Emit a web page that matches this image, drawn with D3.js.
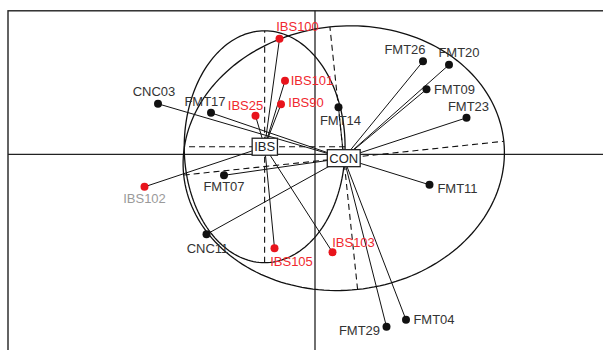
<!DOCTYPE html>
<html>
<head>
<meta charset="utf-8">
<script src="https://cdn.jsdelivr.net/npm/d3@7"></script>
<style>
  html, body { margin: 0; padding: 0; background: #fff; }
  svg { display: block; }
</style>
</head>
<body>
<div id="chart"></div>
<script>
// sample scores on the first two axes
const ibsNames = ['IBS100', 'IBS101', 'IBS90', 'IBS25', 'IBS102', 'IBS105', 'IBS103'];
const ibsX = [-0.71, -0.60, -0.68, -1.19, -3.41, -0.81, 0.35];
const ibsY = [2.31, 1.47, 1.00, 0.77, -0.65, -1.88, -1.96];

const conNames = ['CNC03', 'FMT17', 'FMT07', 'CNC11', 'FMT14', 'FMT26', 'FMT20', 'FMT09', 'FMT23', 'FMT11', 'FMT04', 'FMT29'];
const conX = [-3.14, -2.08, -1.82, -2.17, 0.47, 2.16, 2.68, 2.23, 3.03, 2.29, 1.82, 1.43];
const conY = [1.01, 0.83, -0.42, -1.60, 0.94, 1.86, 1.79, 1.30, 0.73, -0.61, -3.31, -3.45];

const groupNames = ['IBS', 'CON'];

// label placement around each dot (pixels, centre of text)
const labelOffset = {
    IBS100: [18, -12], IBS101: [27, 0], IBS90: [25, -2], IBS25: [-10, -10],
    IBS102: [0, 12], IBS105: [17, 13], IBS103: [21, -10],
    CNC03: [-4, -12], FMT17: [-6, -11], FMT07: [0, 11], CNC11: [1, 14],
    FMT14: [2, 13], FMT26: [-18, -12], FMT20: [10, -12], FMT09: [28, 0],
    FMT23: [2, -11], FMT11: [28, 4], FMT04: [28, 0], FMT29: [-27, 4]
};

const width = 603, height = 350;
const cellipse = 1.5;

const svg = d3.select('#chart').append('svg')
    .attr('width', width)
    .attr('height', height)
    .style('font-family', '"Liberation Sans", Arial, sans-serif');

// equal aspect: 50 px per unit on both axes
const x = d3.scaleLinear().domain([-6.14, 6.14]).range([8, 622]);
const y = d3.scaleLinear().domain([-4.5, 2.87]).range([379.3, 10.8]);

const groups = [
    { name: groupNames[0], pts: ibsNames.map((n, i) => ({ name: n, x: ibsX[i], y: ibsY[i] })) },
    { name: groupNames[1], pts: conNames.map((n, i) => ({ name: n, x: conX[i], y: conY[i] })) }
];

// centroid + covariance ellipse (ade4 style, weights 1/n)
groups.forEach(g => {
    const n = g.pts.length;
    g.mx = d3.mean(g.pts, d => d.x);
    g.my = d3.mean(g.pts, d => d.y);
    const vx = d3.sum(g.pts, d => (d.x - g.mx) ** 2) / n;
    const vy = d3.sum(g.pts, d => (d.y - g.my) ** 2) / n;
    const cv = d3.sum(g.pts, d => (d.x - g.mx) * (d.y - g.my)) / n;
    const half = (vx + vy) / 2;
    const disc = Math.sqrt(((vx - vy) / 2) ** 2 + cv * cv);
    g.a = cellipse * Math.sqrt(half + disc);
    g.b = cellipse * Math.sqrt(Math.max(half - disc, 0));
    g.theta = 0.5 * Math.atan2(2 * cv, vx - vy);
});

// frame
svg.append('rect')
    .attr('x', x(-6.14)).attr('y', y(2.87))
    .attr('width', x(6.14) - x(-6.14)).attr('height', y(-4.5) - y(2.87))
    .attr('fill', 'none').attr('stroke', '#222').attr('stroke-width', 1.4);

// axes through origin
svg.append('line')
    .attr('x1', x(-6.14)).attr('x2', x(6.14))
    .attr('y1', y(0)).attr('y2', y(0))
    .attr('stroke', '#222').attr('stroke-width', 1.3);
svg.append('line')
    .attr('x1', x(0)).attr('x2', x(0))
    .attr('y1', y(2.87)).attr('y2', y(-4.5))
    .attr('stroke', '#222').attr('stroke-width', 1.3);

const line = d3.line().x(d => x(d[0])).y(d => y(d[1]));

groups.forEach(g => {
    const c = Math.cos(g.theta), s = Math.sin(g.theta);
    const pts = d3.range(0, 361, 2).map(deg => {
        const t = deg * Math.PI / 180;
        const u = g.a * Math.cos(t), v = g.b * Math.sin(t);
        return [g.mx + u * c - v * s, g.my + u * s + v * c];
    });
    svg.append('path')
        .attr('d', line(pts))
        .attr('fill', 'none').attr('stroke', '#111').attr('stroke-width', 1.3);

    // ellipse axes
    const axes = [
        [[g.mx - g.a * c, g.my - g.a * s], [g.mx + g.a * c, g.my + g.a * s]],
        [[g.mx + g.b * s, g.my - g.b * c], [g.mx - g.b * s, g.my + g.b * c]]
    ];
    axes.forEach(ax => {
        svg.append('path')
            .attr('d', line(ax))
            .attr('fill', 'none').attr('stroke', '#111')
            .attr('stroke-width', 1.1).attr('stroke-dasharray', '6,4');
    });
});

// star lines
groups.forEach(g => {
    svg.append('g').selectAll('line')
        .data(g.pts)
        .enter().append('line')
        .attr('x1', d => x(d.x)).attr('y1', d => y(d.y))
        .attr('x2', x(g.mx)).attr('y2', y(g.my))
        .attr('stroke', '#111').attr('stroke-width', 1);
});

// dots and labels
groups.forEach(g => {
    const red = g.name === 'IBS';
    svg.append('g').selectAll('circle')
        .data(g.pts)
        .enter().append('circle')
        .attr('cx', d => x(d.x)).attr('cy', d => y(d.y))
        .attr('r', 4)
        .attr('fill', red ? '#e8141c' : '#111');

    svg.append('g').selectAll('text')
        .data(g.pts)
        .enter().append('text')
        .attr('x', d => x(d.x) + labelOffset[d.name][0])
        .attr('y', d => y(d.y) + labelOffset[d.name][1])
        .attr('text-anchor', 'middle')
        .attr('dominant-baseline', 'central')
        .attr('font-size', '13px')
        .attr('fill', d => d.name === 'IBS102' ? '#9a9a9a' : (red ? '#f0282e' : '#333'))
        .text(d => d.name);
});

// group boxes
groups.forEach(g => {
    const t = svg.append('text')
        .attr('x', x(g.mx)).attr('y', y(g.my))
        .attr('text-anchor', 'middle')
        .attr('dominant-baseline', 'central')
        .attr('font-size', '13px')
        .attr('fill', '#222')
        .text(g.name);
    const bb = t.node().getBBox();
    svg.insert('rect', () => t.node())
        .attr('x', bb.x - 2).attr('y', y(g.my) - 8.5)
        .attr('width', bb.width + 4).attr('height', 17)
        .attr('fill', '#fff').attr('stroke', '#222').attr('stroke-width', 1.3);
});
</script>
</body>
</html>
